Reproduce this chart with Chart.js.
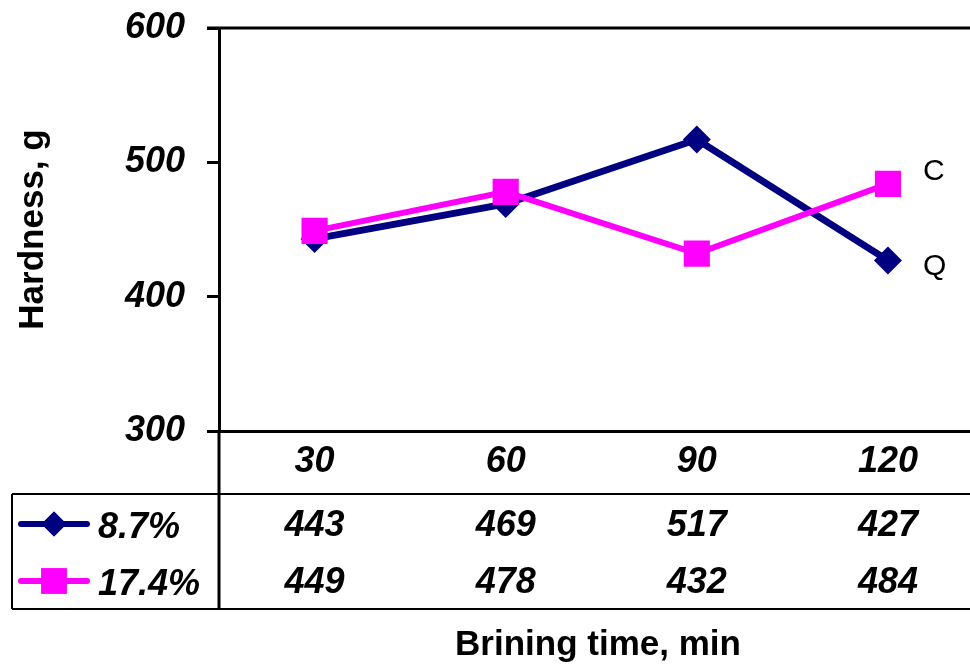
<!DOCTYPE html>
<html>
<head>
<meta charset="utf-8">
<script src="https://cdn.jsdelivr.net/npm/chart.js@4/dist/chart.umd.min.js"></script>
<style>
  html, body { margin: 0; padding: 0; background: #fff; overflow: hidden; }
  #wrap { position: relative; width: 1002px; height: 671px; }
</style>
</head>
<body>
<div id="wrap"><canvas id="c" width="1002" height="671"></canvas></div>
<script>
// Brining time categories (min)
const categories = ['30', '60', '90', '120'];
// Hardness (g) for each brine concentration
const seriesNames = ['8.7%', '17.4%'];
const hardness87 = [443, 469, 517, 427];
const hardness174 = [449, 478, 432, 484];
// Labels written beside the last point of each line
const endLabels = ['Q', 'C'];
// Value axis range
const yMin = 300, yMax = 600, yStep = 100;

const FONT = '"Liberation Sans", Arial, Helvetica, sans-serif';
const NAVY = '#000080';
const MAGENTA = '#FF00FF';

const tablePlugin = {
  id: 'dataTable',
  afterDraw(chart) {
    const ctx = chart.ctx;
    const area = chart.chartArea;
    const xs = chart.scales.x;
    const W = chart.width;
    const tableTop = 494, tableBottom = 609, tableLeft = 12;
    const catY = 462, rowY = [526, 583];

    ctx.save();
    // frame line along the top of the plot
    ctx.strokeStyle = '#000';
    ctx.lineWidth = 3;
    ctx.beginPath();
    ctx.moveTo(area.left - 12, area.top);
    ctx.lineTo(W, area.top);
    ctx.stroke();

    // data table grid
    ctx.lineWidth = 2;
    ctx.beginPath();
    ctx.moveTo(tableLeft, tableTop); ctx.lineTo(W, tableTop);
    ctx.moveTo(tableLeft, tableBottom); ctx.lineTo(W, tableBottom);
    ctx.moveTo(tableLeft, tableTop); ctx.lineTo(tableLeft, tableBottom);
    ctx.stroke();
    ctx.lineWidth = 3;
    ctx.beginPath();
    ctx.moveTo(area.left, area.bottom); ctx.lineTo(area.left, tableBottom);
    ctx.stroke();

    // category labels and values
    ctx.fillStyle = '#000';
    ctx.textAlign = 'center';
    ctx.textBaseline = 'middle';
    ctx.font = 'italic bold 36px ' + FONT;
    const rows = [hardness87, hardness174];
    categories.forEach((cat, i) => {
      const x = xs.getPixelForValue(i);
      ctx.fillText(cat, x, catY);
      rows.forEach((vals, r) => ctx.fillText(String(vals[i]), x, rowY[r]));
    });

    // legend keys inside the table
    chart.data.datasets.forEach((ds) => {
      const r = ds.row;
      const y = rowY[r] - 2;
      ctx.strokeStyle = ds.borderColor;
      ctx.lineWidth = 6;
      ctx.lineCap = 'round';
      ctx.beginPath();
      ctx.moveTo(21, y); ctx.lineTo(87, y);
      ctx.stroke();
      ctx.fillStyle = ds.borderColor;
      Chart.helpers.drawPoint(ctx, {
        pointStyle: ds.pointStyle,
        radius: ds.pointStyle === 'rect' ? 18 : 12.5,
        borderWidth: 0,
        rotation: 0
      }, 54, y);
      ctx.fill();
      ctx.fillStyle = '#000';
      ctx.textAlign = 'left';
      ctx.fillText(seriesNames[r], 98, rowY[r] + 2);
    });

    // labels beside line ends
    ctx.font = '30px ' + FONT;
    ctx.textAlign = 'left';
    chart.data.datasets.forEach((ds, k) => {
      const meta = chart.getDatasetMeta(k);
      const pt = meta.data[meta.data.length - 1];
      ctx.fillText(ds.endLabel, pt.x + 35, pt.y + ds.endOffset);
    });

    // axis titles
    ctx.font = 'bold 35px ' + FONT;
    ctx.textAlign = 'center';
    ctx.textBaseline = 'alphabetic';
    ctx.fillText('Brining time, min', 598, 655);
    ctx.translate(43, (area.top + area.bottom) / 2);
    ctx.rotate(-Math.PI / 2);
    ctx.fillText('Hardness, g', 0, 0);
    ctx.restore();
  }
};

new Chart(document.getElementById('c'), {
  type: 'line',
  data: {
    labels: categories,
    datasets: [
      {
        label: seriesNames[1], row: 1, endLabel: endLabels[1], endOffset: -12,
        data: hardness174, order: 0,
        borderColor: MAGENTA, backgroundColor: MAGENTA, borderWidth: 6,
        pointStyle: 'rect', pointRadius: 18.5, pointHoverRadius: 18.5,
        pointBorderWidth: 0, pointBackgroundColor: MAGENTA, tension: 0
      },
      {
        label: seriesNames[0], row: 0, endLabel: endLabels[0], endOffset: 6,
        data: hardness87, order: 1,
        borderColor: NAVY, backgroundColor: NAVY, borderWidth: 7,
        pointStyle: 'rectRot', pointRadius: 14, pointHoverRadius: 14,
        pointBorderWidth: 0, pointBackgroundColor: NAVY, tension: 0
      }
    ]
  },
  options: {
    responsive: false,
    devicePixelRatio: 1,
    animation: false,
    events: [],
    layout: { padding: { top: 28, right: 7, left: 0, bottom: 0 } },
    plugins: { legend: { display: false }, tooltip: { enabled: false } },
    scales: {
      x: {
        type: 'category',
        offset: true,
        grid: { display: false },
        border: { display: true, color: '#000', width: 3 },
        ticks: { display: false },
        afterFit(scale) { scale.height = 240; }
      },
      y: {
        min: yMin, max: yMax,
        grid: { drawOnChartArea: false, drawTicks: true, tickLength: 12, tickWidth: 3, color: '#000' },
        border: { display: true, color: '#000', width: 3 },
        ticks: {
          stepSize: yStep, padding: 22, color: '#000',
          font: { family: FONT, size: 36, style: 'italic', weight: 'bold' }
        },
        afterFit(scale) {
          scale.width = 219;
          scale.paddingTop = 0;
          scale.paddingBottom = 0;
        }
      }
    }
  },
  plugins: [tablePlugin]
});
</script>
</body>
</html>
